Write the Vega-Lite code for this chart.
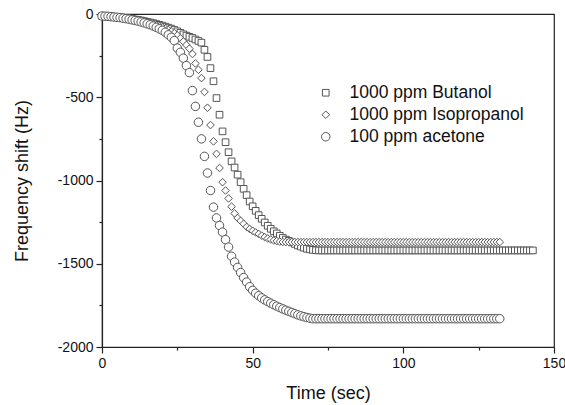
{
"$schema":"https://vega.github.io/schema/vega-lite/v6.json",
"width":452,"height":333,
"autosize":{"type":"none"},
"padding":{"left":102,"top":14,"right":11,"bottom":58},
"background":"white",
"config":{"font":"Liberation Sans","view":{"stroke":"#222","strokeWidth":1.2},
 "axis":{"grid":false,"domainColor":"#222","domainWidth":1.2,"tickColor":"#222","tickWidth":1.2,"labelColor":"#111","titleColor":"#111","labelFont":"Liberation Sans","titleFont":"Liberation Sans","titleFontWeight":"normal","labelFontSize":14,"titleFontSize":18}},
"data":{"values":[
{"t":0,"v":-12,"s":"B"},{"t":1,"v":-13,"s":"B"},{"t":2,"v":-14,"s":"B"},{"t":3,"v":-15,"s":"B"},{"t":4,"v":-17,"s":"B"},{"t":5,"v":-19,"s":"B"},{"t":6,"v":-21,"s":"B"},{"t":7,"v":-23,"s":"B"},{"t":8,"v":-25,"s":"B"},{"t":9,"v":-27,"s":"B"},
{"t":10,"v":-30,"s":"B"},{"t":11,"v":-33,"s":"B"},{"t":12,"v":-36,"s":"B"},{"t":13,"v":-39,"s":"B"},{"t":14,"v":-43,"s":"B"},{"t":15,"v":-47,"s":"B"},{"t":16,"v":-51,"s":"B"},{"t":17,"v":-55,"s":"B"},{"t":18,"v":-60,"s":"B"},{"t":19,"v":-65,"s":"B"},
{"t":20,"v":-70,"s":"B"},{"t":21,"v":-76,"s":"B"},{"t":22,"v":-82,"s":"B"},{"t":23,"v":-88,"s":"B"},{"t":24,"v":-96,"s":"B"},{"t":25,"v":-104,"s":"B"},{"t":26,"v":-113,"s":"B"},{"t":27,"v":-122,"s":"B"},{"t":28,"v":-130,"s":"B"},{"t":29,"v":-137,"s":"B"},
{"t":30,"v":-144,"s":"B"},{"t":31,"v":-153,"s":"B"},{"t":32,"v":-162,"s":"B"},{"t":33,"v":-172,"s":"B"},{"t":34,"v":-215,"s":"B"},{"t":35,"v":-258,"s":"B"},{"t":36,"v":-325,"s":"B"},{"t":37,"v":-404,"s":"B"},{"t":38,"v":-505,"s":"B"},{"t":39,"v":-605,"s":"B"},
{"t":40,"v":-705,"s":"B"},{"t":41,"v":-770,"s":"B"},{"t":42,"v":-830,"s":"B"},{"t":43,"v":-885,"s":"B"},{"t":44,"v":-922,"s":"B"},{"t":45,"v":-965,"s":"B"},{"t":46,"v":-1010,"s":"B"},{"t":47,"v":-1050,"s":"B"},{"t":48,"v":-1088,"s":"B"},{"t":49,"v":-1126,"s":"B"},
{"t":50,"v":-1155,"s":"B"},{"t":51,"v":-1182,"s":"B"},{"t":52,"v":-1208,"s":"B"},{"t":53,"v":-1230,"s":"B"},{"t":54,"v":-1252,"s":"B"},{"t":55,"v":-1272,"s":"B"},{"t":56,"v":-1290,"s":"B"},{"t":57,"v":-1305,"s":"B"},{"t":58,"v":-1318,"s":"B"},{"t":59,"v":-1332,"s":"B"},
{"t":60,"v":-1345,"s":"B"},{"t":61,"v":-1355,"s":"B"},{"t":62,"v":-1362,"s":"B"},{"t":63,"v":-1372,"s":"B"},{"t":64,"v":-1381,"s":"B"},{"t":65,"v":-1390,"s":"B"},{"t":66,"v":-1397,"s":"B"},{"t":67,"v":-1404,"s":"B"},{"t":68,"v":-1410,"s":"B"},{"t":69,"v":-1414,"s":"B"},
{"t":70,"v":-1417,"s":"B"},{"t":71,"v":-1419,"s":"B"},{"t":72,"v":-1420,"s":"B"},{"t":73,"v":-1420,"s":"B"},{"t":74,"v":-1420,"s":"B"},{"t":75,"v":-1420,"s":"B"},{"t":76,"v":-1420,"s":"B"},{"t":77,"v":-1420,"s":"B"},{"t":78,"v":-1420,"s":"B"},{"t":79,"v":-1420,"s":"B"},
{"t":80,"v":-1420,"s":"B"},{"t":81,"v":-1420,"s":"B"},{"t":82,"v":-1420,"s":"B"},{"t":83,"v":-1420,"s":"B"},{"t":84,"v":-1420,"s":"B"},{"t":85,"v":-1420,"s":"B"},{"t":86,"v":-1420,"s":"B"},{"t":87,"v":-1420,"s":"B"},{"t":88,"v":-1420,"s":"B"},{"t":89,"v":-1420,"s":"B"},
{"t":90,"v":-1420,"s":"B"},{"t":91,"v":-1420,"s":"B"},{"t":92,"v":-1420,"s":"B"},{"t":93,"v":-1420,"s":"B"},{"t":94,"v":-1420,"s":"B"},{"t":95,"v":-1420,"s":"B"},{"t":96,"v":-1420,"s":"B"},{"t":97,"v":-1420,"s":"B"},{"t":98,"v":-1420,"s":"B"},{"t":99,"v":-1420,"s":"B"},
{"t":100,"v":-1420,"s":"B"},{"t":101,"v":-1420,"s":"B"},{"t":102,"v":-1420,"s":"B"},{"t":103,"v":-1420,"s":"B"},{"t":104,"v":-1420,"s":"B"},{"t":105,"v":-1420,"s":"B"},{"t":106,"v":-1420,"s":"B"},{"t":107,"v":-1420,"s":"B"},{"t":108,"v":-1420,"s":"B"},{"t":109,"v":-1420,"s":"B"},
{"t":110,"v":-1420,"s":"B"},{"t":111,"v":-1420,"s":"B"},{"t":112,"v":-1420,"s":"B"},{"t":113,"v":-1420,"s":"B"},{"t":114,"v":-1420,"s":"B"},{"t":115,"v":-1420,"s":"B"},{"t":116,"v":-1420,"s":"B"},{"t":117,"v":-1420,"s":"B"},{"t":118,"v":-1420,"s":"B"},{"t":119,"v":-1420,"s":"B"},
{"t":120,"v":-1420,"s":"B"},{"t":121,"v":-1420,"s":"B"},{"t":122,"v":-1420,"s":"B"},{"t":123,"v":-1420,"s":"B"},{"t":124,"v":-1420,"s":"B"},{"t":125,"v":-1420,"s":"B"},{"t":126,"v":-1420,"s":"B"},{"t":127,"v":-1420,"s":"B"},{"t":128,"v":-1420,"s":"B"},{"t":129,"v":-1420,"s":"B"},
{"t":130,"v":-1420,"s":"B"},{"t":131,"v":-1420,"s":"B"},{"t":132,"v":-1420,"s":"B"},{"t":133,"v":-1420,"s":"B"},{"t":134,"v":-1420,"s":"B"},{"t":135,"v":-1420,"s":"B"},{"t":136,"v":-1420,"s":"B"},{"t":137,"v":-1420,"s":"B"},{"t":138,"v":-1420,"s":"B"},{"t":139,"v":-1420,"s":"B"},
{"t":140,"v":-1420,"s":"B"},{"t":141,"v":-1420,"s":"B"},{"t":142,"v":-1420,"s":"B"},{"t":143,"v":-1420,"s":"B"},
{"t":0,"v":-12,"s":"I"},{"t":1,"v":-13,"s":"I"},{"t":2,"v":-15,"s":"I"},{"t":3,"v":-16,"s":"I"},{"t":4,"v":-18,"s":"I"},{"t":5,"v":-20,"s":"I"},{"t":6,"v":-22,"s":"I"},{"t":7,"v":-25,"s":"I"},{"t":8,"v":-27,"s":"I"},{"t":9,"v":-30,"s":"I"},
{"t":10,"v":-33,"s":"I"},{"t":11,"v":-36,"s":"I"},{"t":12,"v":-40,"s":"I"},{"t":13,"v":-44,"s":"I"},{"t":14,"v":-48,"s":"I"},{"t":15,"v":-52,"s":"I"},{"t":16,"v":-57,"s":"I"},{"t":17,"v":-62,"s":"I"},{"t":18,"v":-68,"s":"I"},{"t":19,"v":-74,"s":"I"},
{"t":20,"v":-80,"s":"I"},{"t":21,"v":-88,"s":"I"},{"t":22,"v":-96,"s":"I"},{"t":23,"v":-105,"s":"I"},{"t":24,"v":-115,"s":"I"},{"t":25,"v":-128,"s":"I"},{"t":26,"v":-146,"s":"I"},{"t":27,"v":-165,"s":"I"},{"t":28,"v":-186,"s":"I"},{"t":29,"v":-208,"s":"I"},
{"t":30,"v":-240,"s":"I"},{"t":31,"v":-297,"s":"I"},{"t":32,"v":-335,"s":"I"},{"t":33,"v":-385,"s":"I"},{"t":34,"v":-468,"s":"I"},{"t":35,"v":-563,"s":"I"},{"t":36,"v":-667,"s":"I"},{"t":37,"v":-765,"s":"I"},{"t":38,"v":-840,"s":"I"},{"t":39,"v":-925,"s":"I"},
{"t":40,"v":-1010,"s":"I"},{"t":41,"v":-1060,"s":"I"},{"t":42,"v":-1108,"s":"I"},{"t":43,"v":-1157,"s":"I"},{"t":44,"v":-1198,"s":"I"},{"t":45,"v":-1225,"s":"I"},{"t":46,"v":-1242,"s":"I"},{"t":47,"v":-1260,"s":"I"},{"t":48,"v":-1279,"s":"I"},{"t":49,"v":-1291,"s":"I"},
{"t":50,"v":-1302,"s":"I"},{"t":51,"v":-1312,"s":"I"},{"t":52,"v":-1321,"s":"I"},{"t":53,"v":-1331,"s":"I"},{"t":54,"v":-1340,"s":"I"},{"t":55,"v":-1348,"s":"I"},{"t":56,"v":-1354,"s":"I"},{"t":57,"v":-1360,"s":"I"},{"t":58,"v":-1364,"s":"I"},{"t":59,"v":-1367,"s":"I"},
{"t":60,"v":-1369,"s":"I"},{"t":61,"v":-1370,"s":"I"},{"t":62,"v":-1370,"s":"I"},{"t":63,"v":-1370,"s":"I"},{"t":64,"v":-1370,"s":"I"},{"t":65,"v":-1370,"s":"I"},{"t":66,"v":-1370,"s":"I"},{"t":67,"v":-1370,"s":"I"},{"t":68,"v":-1370,"s":"I"},{"t":69,"v":-1370,"s":"I"},
{"t":70,"v":-1370,"s":"I"},{"t":71,"v":-1370,"s":"I"},{"t":72,"v":-1370,"s":"I"},{"t":73,"v":-1370,"s":"I"},{"t":74,"v":-1370,"s":"I"},{"t":75,"v":-1370,"s":"I"},{"t":76,"v":-1370,"s":"I"},{"t":77,"v":-1370,"s":"I"},{"t":78,"v":-1370,"s":"I"},{"t":79,"v":-1370,"s":"I"},
{"t":80,"v":-1370,"s":"I"},{"t":81,"v":-1370,"s":"I"},{"t":82,"v":-1370,"s":"I"},{"t":83,"v":-1370,"s":"I"},{"t":84,"v":-1370,"s":"I"},{"t":85,"v":-1370,"s":"I"},{"t":86,"v":-1370,"s":"I"},{"t":87,"v":-1370,"s":"I"},{"t":88,"v":-1370,"s":"I"},{"t":89,"v":-1370,"s":"I"},
{"t":90,"v":-1370,"s":"I"},{"t":91,"v":-1370,"s":"I"},{"t":92,"v":-1370,"s":"I"},{"t":93,"v":-1370,"s":"I"},{"t":94,"v":-1370,"s":"I"},{"t":95,"v":-1370,"s":"I"},{"t":96,"v":-1370,"s":"I"},{"t":97,"v":-1370,"s":"I"},{"t":98,"v":-1370,"s":"I"},{"t":99,"v":-1370,"s":"I"},
{"t":100,"v":-1370,"s":"I"},{"t":101,"v":-1370,"s":"I"},{"t":102,"v":-1370,"s":"I"},{"t":103,"v":-1370,"s":"I"},{"t":104,"v":-1370,"s":"I"},{"t":105,"v":-1370,"s":"I"},{"t":106,"v":-1370,"s":"I"},{"t":107,"v":-1370,"s":"I"},{"t":108,"v":-1370,"s":"I"},{"t":109,"v":-1370,"s":"I"},
{"t":110,"v":-1370,"s":"I"},{"t":111,"v":-1370,"s":"I"},{"t":112,"v":-1370,"s":"I"},{"t":113,"v":-1370,"s":"I"},{"t":114,"v":-1370,"s":"I"},{"t":115,"v":-1370,"s":"I"},{"t":116,"v":-1370,"s":"I"},{"t":117,"v":-1370,"s":"I"},{"t":118,"v":-1370,"s":"I"},{"t":119,"v":-1370,"s":"I"},
{"t":120,"v":-1370,"s":"I"},{"t":121,"v":-1370,"s":"I"},{"t":122,"v":-1370,"s":"I"},{"t":123,"v":-1370,"s":"I"},{"t":124,"v":-1370,"s":"I"},{"t":125,"v":-1370,"s":"I"},{"t":126,"v":-1370,"s":"I"},{"t":127,"v":-1370,"s":"I"},{"t":128,"v":-1370,"s":"I"},{"t":129,"v":-1370,"s":"I"},
{"t":130,"v":-1370,"s":"I"},{"t":131,"v":-1370,"s":"I"},{"t":132,"v":-1370,"s":"I"},
{"t":0,"v":-12,"s":"A"},{"t":1,"v":-13,"s":"A"},{"t":2,"v":-14,"s":"A"},{"t":3,"v":-16,"s":"A"},{"t":4,"v":-18,"s":"A"},{"t":5,"v":-20,"s":"A"},{"t":6,"v":-22,"s":"A"},{"t":7,"v":-25,"s":"A"},{"t":8,"v":-28,"s":"A"},{"t":9,"v":-31,"s":"A"},
{"t":10,"v":-35,"s":"A"},{"t":11,"v":-39,"s":"A"},{"t":12,"v":-43,"s":"A"},{"t":13,"v":-48,"s":"A"},{"t":14,"v":-53,"s":"A"},{"t":15,"v":-59,"s":"A"},{"t":16,"v":-65,"s":"A"},{"t":17,"v":-72,"s":"A"},{"t":18,"v":-80,"s":"A"},{"t":19,"v":-89,"s":"A"},
{"t":20,"v":-98,"s":"A"},{"t":21,"v":-110,"s":"A"},{"t":22,"v":-125,"s":"A"},{"t":23,"v":-140,"s":"A"},{"t":24,"v":-160,"s":"A"},{"t":25,"v":-205,"s":"A"},{"t":26,"v":-230,"s":"A"},{"t":27,"v":-265,"s":"A"},{"t":28,"v":-310,"s":"A"},{"t":29,"v":-352,"s":"A"},
{"t":30,"v":-460,"s":"A"},{"t":31,"v":-555,"s":"A"},{"t":32,"v":-650,"s":"A"},{"t":33,"v":-750,"s":"A"},{"t":34,"v":-855,"s":"A"},{"t":35,"v":-955,"s":"A"},{"t":36,"v":-1060,"s":"A"},{"t":37,"v":-1160,"s":"A"},{"t":38,"v":-1225,"s":"A"},{"t":39,"v":-1270,"s":"A"},
{"t":40,"v":-1310,"s":"A"},{"t":41,"v":-1355,"s":"A"},{"t":42,"v":-1400,"s":"A"},{"t":43,"v":-1455,"s":"A"},{"t":44,"v":-1490,"s":"A"},{"t":45,"v":-1522,"s":"A"},{"t":46,"v":-1553,"s":"A"},{"t":47,"v":-1583,"s":"A"},{"t":48,"v":-1610,"s":"A"},{"t":49,"v":-1638,"s":"A"},
{"t":50,"v":-1660,"s":"A"},{"t":51,"v":-1677,"s":"A"},{"t":52,"v":-1692,"s":"A"},{"t":53,"v":-1705,"s":"A"},{"t":54,"v":-1717,"s":"A"},{"t":55,"v":-1727,"s":"A"},{"t":56,"v":-1737,"s":"A"},{"t":57,"v":-1746,"s":"A"},{"t":58,"v":-1755,"s":"A"},{"t":59,"v":-1763,"s":"A"},
{"t":60,"v":-1771,"s":"A"},{"t":61,"v":-1779,"s":"A"},{"t":62,"v":-1786,"s":"A"},{"t":63,"v":-1793,"s":"A"},{"t":64,"v":-1800,"s":"A"},{"t":65,"v":-1807,"s":"A"},{"t":66,"v":-1813,"s":"A"},{"t":67,"v":-1818,"s":"A"},{"t":68,"v":-1823,"s":"A"},{"t":69,"v":-1827,"s":"A"},
{"t":70,"v":-1830,"s":"A"},{"t":71,"v":-1830,"s":"A"},{"t":72,"v":-1830,"s":"A"},{"t":73,"v":-1830,"s":"A"},{"t":74,"v":-1830,"s":"A"},{"t":75,"v":-1830,"s":"A"},{"t":76,"v":-1830,"s":"A"},{"t":77,"v":-1830,"s":"A"},{"t":78,"v":-1830,"s":"A"},{"t":79,"v":-1830,"s":"A"},
{"t":80,"v":-1830,"s":"A"},{"t":81,"v":-1830,"s":"A"},{"t":82,"v":-1830,"s":"A"},{"t":83,"v":-1830,"s":"A"},{"t":84,"v":-1830,"s":"A"},{"t":85,"v":-1830,"s":"A"},{"t":86,"v":-1830,"s":"A"},{"t":87,"v":-1830,"s":"A"},{"t":88,"v":-1830,"s":"A"},{"t":89,"v":-1830,"s":"A"},
{"t":90,"v":-1830,"s":"A"},{"t":91,"v":-1830,"s":"A"},{"t":92,"v":-1830,"s":"A"},{"t":93,"v":-1830,"s":"A"},{"t":94,"v":-1830,"s":"A"},{"t":95,"v":-1830,"s":"A"},{"t":96,"v":-1830,"s":"A"},{"t":97,"v":-1830,"s":"A"},{"t":98,"v":-1830,"s":"A"},{"t":99,"v":-1830,"s":"A"},
{"t":100,"v":-1830,"s":"A"},{"t":101,"v":-1830,"s":"A"},{"t":102,"v":-1830,"s":"A"},{"t":103,"v":-1830,"s":"A"},{"t":104,"v":-1830,"s":"A"},{"t":105,"v":-1830,"s":"A"},{"t":106,"v":-1830,"s":"A"},{"t":107,"v":-1830,"s":"A"},{"t":108,"v":-1830,"s":"A"},{"t":109,"v":-1830,"s":"A"},
{"t":110,"v":-1830,"s":"A"},{"t":111,"v":-1830,"s":"A"},{"t":112,"v":-1830,"s":"A"},{"t":113,"v":-1830,"s":"A"},{"t":114,"v":-1830,"s":"A"},{"t":115,"v":-1830,"s":"A"},{"t":116,"v":-1830,"s":"A"},{"t":117,"v":-1830,"s":"A"},{"t":118,"v":-1830,"s":"A"},{"t":119,"v":-1830,"s":"A"},
{"t":120,"v":-1830,"s":"A"},{"t":121,"v":-1830,"s":"A"},{"t":122,"v":-1830,"s":"A"},{"t":123,"v":-1830,"s":"A"},{"t":124,"v":-1830,"s":"A"},{"t":125,"v":-1830,"s":"A"},{"t":126,"v":-1830,"s":"A"},{"t":127,"v":-1830,"s":"A"},{"t":128,"v":-1830,"s":"A"},{"t":129,"v":-1830,"s":"A"},
{"t":130,"v":-1830,"s":"A"},{"t":131,"v":-1830,"s":"A"},{"t":132,"v":-1830,"s":"A"}
]},
"layer":[
{"mark":{"type":"point","filled":false,"fill":"white","fillOpacity":1,"stroke":"#555","strokeWidth":1,"opacity":1},
 "encoding":{
  "x":{"field":"t","type":"quantitative","scale":{"domain":[0,150],"nice":false,"zero":false},
       "axis":{"values":[0,50,100,150],"tickSize":6,"labelPadding":3,"title":"Time (sec)","titlePadding":14,"labelFlush":false}},
  "y":{"field":"v","type":"quantitative","scale":{"domain":[-2000,0],"nice":false,"zero":false},
       "axis":{"values":[0,-500,-1000,-1500,-2000],"tickSize":6,"labelPadding":3,"labelExpr":"toString(datum.value)","title":"Frequency shift (Hz)","titlePadding":26}},
  "shape":{"field":"s","type":"nominal","scale":{"domain":["B","I","A"],"range":["square","diamond","circle"]},
   "legend":{"orient":"none","legendX":215,"legendY":70,"title":null,"labelFontSize":17.5,"labelFont":"Liberation Sans","labelColor":"#111","labelOffset":15,"labelLimit":400,"rowPadding":3,"symbolFillColor":"white","symbolStrokeColor":"#555","symbolStrokeWidth":1,"padding":0,
    "labelExpr":"datum.label == 'B' ? '1000 ppm Butanol' : datum.label == 'I' ? '1000 ppm Isopropanol' : '100 ppm acetone'"}},
  "size":{"field":"s","type":"nominal","scale":{"domain":["B","I","A"],"range":[44,72,42]}}
 }},
{"mark":{"type":"point","opacity":0},
 "encoding":{
  "x":{"field":"t","type":"quantitative","axis":{"orient":"bottom","values":[25,75,125],"tickSize":3,"labels":false,"domain":false,"title":null}},
  "y":{"field":"v","type":"quantitative","axis":{"orient":"left","values":[-250,-750,-1250,-1750],"tickSize":3,"labels":false,"domain":false,"title":null}}
 }}
],
"resolve":{"axis":{"x":"independent","y":"independent"}}
}
